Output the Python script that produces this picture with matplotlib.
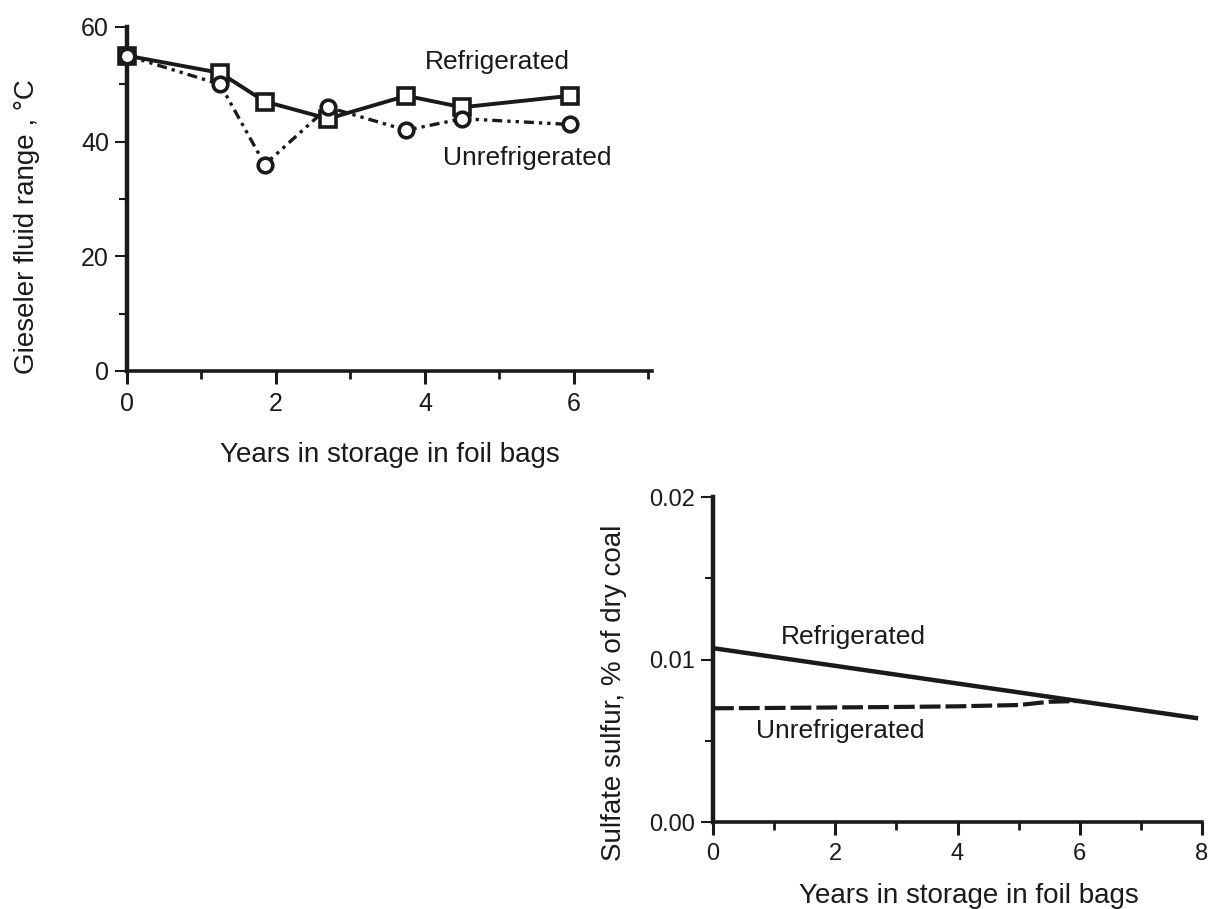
"""Coal sample storage: Gieseler fluid range and sulfate sulfur vs. years in foil bags."""
import matplotlib
matplotlib.use("Agg")
import matplotlib.pyplot as plt
from matplotlib.ticker import MultipleLocator, FormatStrFormatter

plt.rcParams["font.family"] = ["Liberation Sans", "DejaVu Sans"]

# Gieseler fluid range, deg C
years_fluid = [0, 1.25, 1.85, 2.7, 3.75, 4.5, 5.95]
fluid_refrig = [55, 52, 47, 44, 48, 46, 48]
fluid_unrefrig = [55, 50, 36, 46, 42, 44, 43]

# sulfate sulfur, % of dry coal (fitted trends)
years_sulf_refrig = [0, 7.9]
sulf_refrig = [0.0107, 0.0064]
years_sulf_unrefrig = [0, 1, 2, 3, 4, 5, 5.5, 6]
sulf_unrefrig = [0.0070, 0.00702, 0.00705, 0.00708, 0.00712, 0.0072, 0.0074, 0.00745]

INK = "#1a1a1a"
TICK_FS = 18
LABEL_FS = 20
NOTE_FS = 19


def style_axes(ax):
    for side in ("top", "right"):
        ax.spines[side].set_visible(False)
    ax.spines["left"].set_linewidth(3.2)
    ax.spines["bottom"].set_linewidth(2.6)
    for side in ("left", "bottom"):
        ax.spines[side].set_color(INK)
    ax.tick_params(which="major", direction="out", length=9, width=2.2,
                   colors=INK, labelsize=TICK_FS, pad=6)
    ax.tick_params(which="minor", direction="out", length=6, width=2.0,
                   colors=INK)
    ax.tick_params(axis="y", which="major", width=1.5, pad=4)
    ax.tick_params(axis="y", which="minor", width=1.5)


fig = plt.figure(figsize=(12.11, 9.09), dpi=100)

# upper panel
ax1 = fig.add_axes([0.1049, 0.5919, 0.4335, 0.3784])
ax1.plot(years_fluid, fluid_refrig, color=INK, lw=2.8, marker="s", ms=11.5,
         mfc="white", mec=INK, mew=2.6, clip_on=False, zorder=3)
ax1.plot(years_fluid, fluid_unrefrig, color=INK, lw=2.4,
         ls=(0, (3, 1.5, 1, 1.5, 1, 1.5)), marker="o", ms=10.5,
         mfc="white", mec=INK, mew=2.6, clip_on=False, zorder=4)
ax1.set_xlim(0, 7.05)
ax1.set_ylim(0, 60)
ax1.xaxis.set_major_locator(MultipleLocator(2))
ax1.xaxis.set_minor_locator(MultipleLocator(1))
ax1.yaxis.set_major_locator(MultipleLocator(20))
ax1.yaxis.set_minor_locator(MultipleLocator(10))
style_axes(ax1)
ax1.text(4.97, 53.9, "Refrigerated", fontsize=NOTE_FS, color=INK,
         ha="center", va="center")
ax1.text(5.37, 37.2, "Unrefrigerated", fontsize=NOTE_FS, color=INK,
         ha="center", va="center")
ax1.set_xlabel("Years in storage in foil bags", fontsize=LABEL_FS, color=INK,
               va="center")
ax1.set_ylabel("Gieseler fluid range , °C", fontsize=LABEL_FS, color=INK,
               va="center")
ax1.xaxis.set_label_coords(0.5, -0.244)
ax1.yaxis.set_label_coords(-0.19, 0.42)

# lower panel
ax2 = fig.add_axes([0.5888, 0.0957, 0.4038, 0.3575])
ax2.plot(years_sulf_refrig, sulf_refrig, color=INK, lw=3.2, zorder=3)
ax2.plot(years_sulf_unrefrig, sulf_unrefrig, color=INK, lw=3.0,
         ls=(0, (5, 1.2)), zorder=2)
ax2.set_xlim(0, 8)
ax2.set_ylim(0, 0.02)
ax2.xaxis.set_major_locator(MultipleLocator(2))
ax2.xaxis.set_minor_locator(MultipleLocator(1))
ax2.yaxis.set_major_locator(MultipleLocator(0.01))
ax2.yaxis.set_minor_locator(MultipleLocator(0.005))
ax2.yaxis.set_major_formatter(FormatStrFormatter("%.2f"))
style_axes(ax2)
ax2.tick_params(labelsize=17)
ax2.text(2.3, 0.0114, "Refrigerated", fontsize=NOTE_FS, color=INK,
         ha="center", va="center")
ax2.text(2.08, 0.0056, "Unrefrigerated", fontsize=NOTE_FS, color=INK,
         ha="center", va="center")
ax2.set_xlabel("Years in storage in foil bags", fontsize=LABEL_FS, color=INK,
               va="center")
ax2.set_ylabel("Sulfate sulfur, % of dry coal", fontsize=LABEL_FS, color=INK,
               va="center")
ax2.xaxis.set_label_coords(0.524, -0.228)
ax2.yaxis.set_label_coords(-0.202, 0.397)

fig.savefig("out.png", dpi=100, facecolor="white")
